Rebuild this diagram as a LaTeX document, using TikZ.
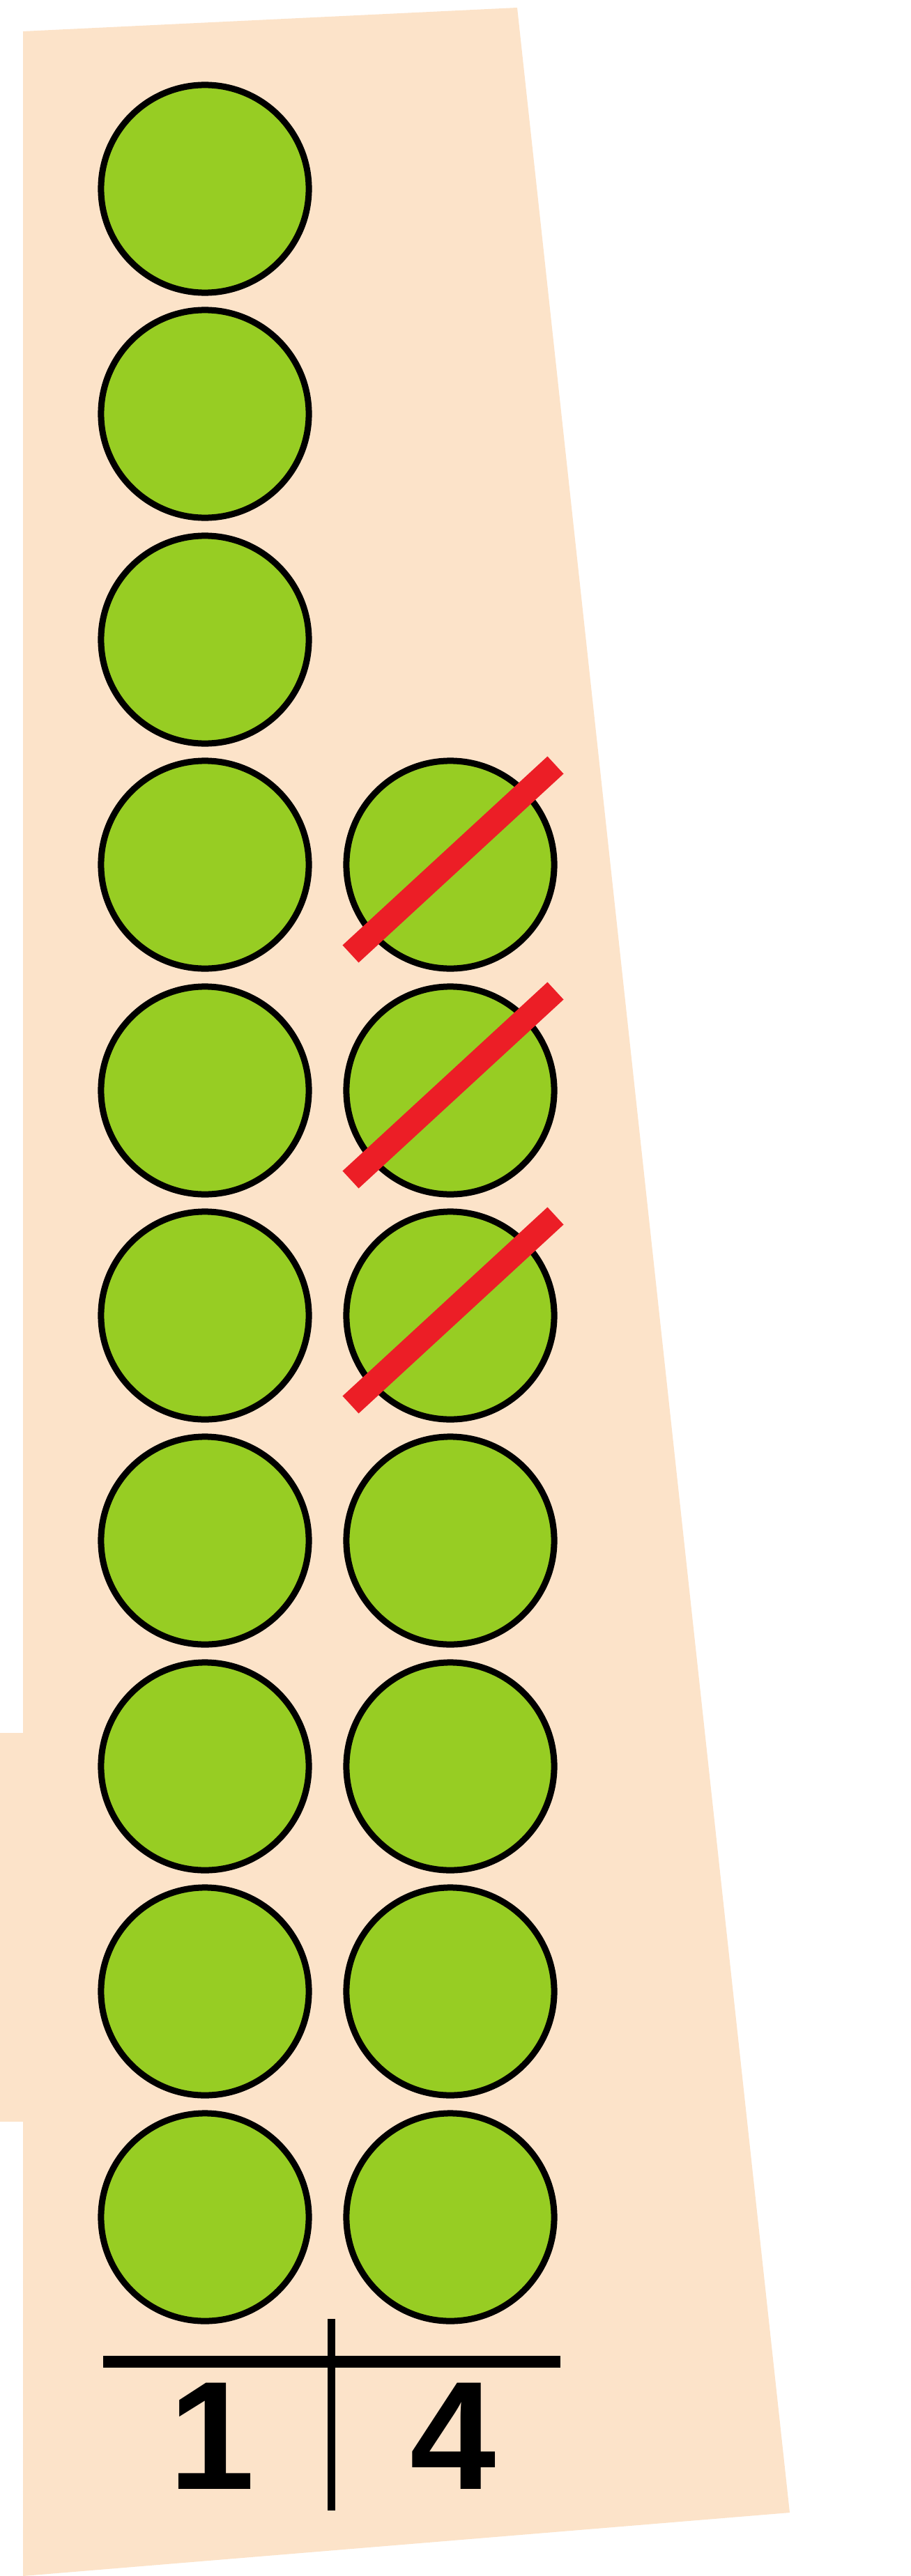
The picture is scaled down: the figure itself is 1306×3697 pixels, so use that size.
\documentclass[tikz,border=0pt]{standalone}
\usepackage{fontspec}
\setmainfont{Liberation Sans}
\newfontfamily\digitfont{Liberation Sans}
\usepackage{tikz}
\definecolor{bgpeach}{RGB}{252,227,201}
\definecolor{beadgreen}{RGB}{151,205,35}
\definecolor{strikered}{RGB}{236,30,38}
\tikzset{
  bead/.style={circle,draw=black,fill=beadgreen,line width=0.09cm,minimum size=2.98cm,inner sep=0pt},
  strike/.style={draw=strikered,line width=0.34cm},
  digit/.style={font=\digitfont\bfseries\fontsize{63pt}{69pt}\selectfont,inner sep=0pt}
}

\begin{document}
\begin{tikzpicture}[x=0.01cm,y=-0.01cm]
\useasboundingbox (0,0) rectangle (1306,3697);
\fill[bgpeach] (33,45) -- (742,11) -- (1133,3606) -- (33,3697) -- cycle;
\fill[bgpeach] (0,2487) rectangle (34,3045);
\node[bead] (l0) at (294,271) {};
\node[bead] (l1) at (294,594) {};
\node[bead] (l2) at (294,918) {};
\node[bead] (l3) at (294,1241) {};
\node[bead] (l4) at (294,1565) {};
\node[bead] (l5) at (294,1888) {};
\node[bead] (l6) at (294,2211) {};
\node[bead] (l7) at (294,2535) {};
\node[bead] (l8) at (294,2858) {};
\node[bead] (l9) at (294,3182) {};
\node[bead] (r3) at (646,1241) {};
\node[bead] (r4) at (646,1565) {};
\node[bead] (r5) at (646,1888) {};
\node[bead] (r6) at (646,2211) {};
\node[bead] (r7) at (646,2535) {};
\node[bead] (r8) at (646,2858) {};
\node[bead] (r9) at (646,3182) {};
\draw[strike] ([shift={(-143,128)}]r3.center) -- ([shift={(151,-143)}]r3.center);
\draw[strike] ([shift={(-143,128)}]r4.center) -- ([shift={(151,-143)}]r4.center);
\draw[strike] ([shift={(-143,128)}]r5.center) -- ([shift={(151,-143)}]r5.center);
\coordinate (hl) at (148,3389);
\coordinate (hr) at (804,3389);
\coordinate (vt) at (475,3328);
\coordinate (vb) at (475,3603);
\draw[line width=0.17cm] (hl) -- (hr);
\draw[line width=0.11cm] (vt) -- (vb);
\node[digit] (ones) at (304,3496) {1};
\node[digit] (fours) at (650,3496) {4};
\end{tikzpicture}
\end{document}
